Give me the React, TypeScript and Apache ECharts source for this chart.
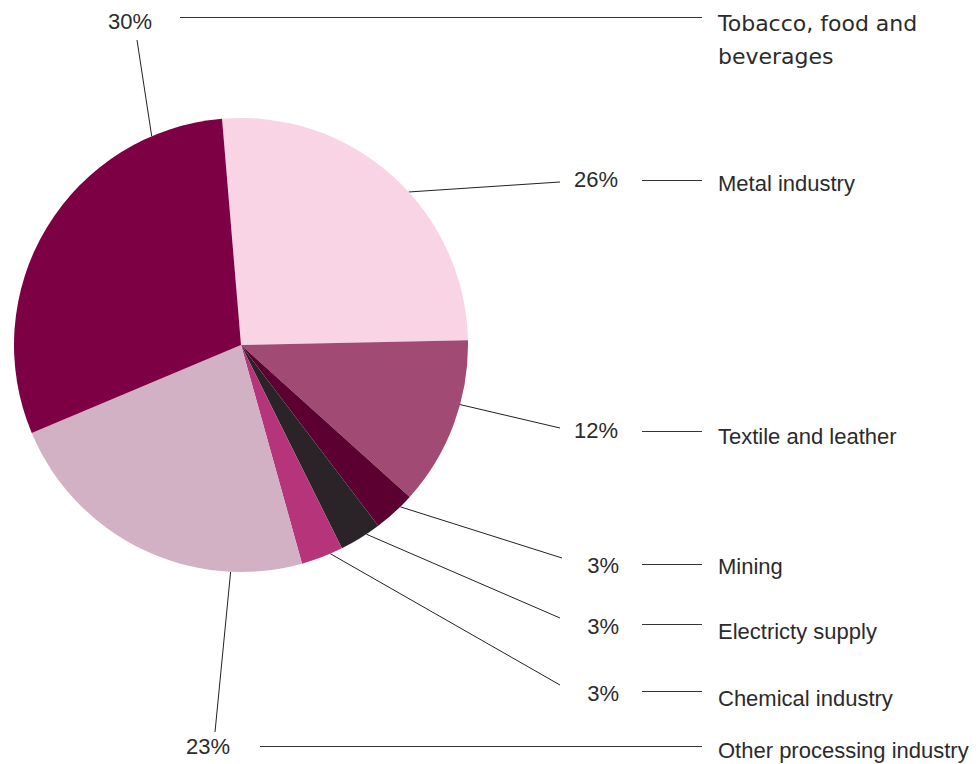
import React, { useEffect, useRef } from 'react';
import * as echarts from 'echarts';

// ---- data ----
const categories = [
  'Metal industry',
  'Textile and leather',
  'Mining',
  'Electricty supply',
  'Chemical industry',
  'Other processing industry',
  'Tobacco, food and\nbeverages',
];
const values = [26, 12, 3, 3, 3, 23, 30];
const colors = ['#f8d4e5', '#a14a73', '#5b0031', '#2a2327', '#b6347a', '#d2b1c5', '#7c0043'];

// ---- layout (not data) ----
const PIE_CENTER = [241, 345];
const PIE_RADIUS = 227;
const START_ANGLE = 94.8;
const pctX = [618, 618, 619, 619, 619, 208, 130];
const pctY = [179, 430, 565, 626, 693, 746, 21];
const pctAlign = ['right', 'right', 'right', 'right', 'right', 'center', 'center'];
// where along each slice's arc (0 = slice start, 1 = slice end) the leader line leaves
const leaderFrac = [0.56, 0.38, 0.32, 0.34, 0.3, 0.22, 0.83];
const leaderEndX = [560, 560, 562, 560, 560, 215, 137];
const leaderEndY = [182, 428, 558, 618, 685, 732, 40];
const connY = [180, 431, 564, 624, 691, 746, 17];
const connX0 = [642, 642, 642, 642, 642, 260, 180];
const connX1 = 702;
const nameX = 718;
const nameY = [183, 436, 566, 631, 698, 750, 40];

const TEXT = '#2b2b2b';
const FONT = 'Liberation Sans, Arial, sans-serif';

function leaderStart(i: number): number[] {
  const total = values.reduce((a, b) => a + b, 0);
  let before = 0;
  for (let k = 0; k < i; k++) before += values[k];
  const a0 = START_ANGLE - (before / total) * 360;
  const span = (values[i] / total) * 360;
  const a = ((a0 - leaderFrac[i] * span) * Math.PI) / 180;
  return [PIE_CENTER[0] + PIE_RADIUS * Math.cos(a), PIE_CENTER[1] - PIE_RADIUS * Math.sin(a)];
}

export default function App() {
  const ref = useRef<HTMLDivElement>(null);
  useEffect(() => {
    if (!ref.current) return;
    const chart = echarts.init(ref.current, undefined, { renderer: 'svg' });
    const graphics: any[] = [];
    categories.forEach((c, i) => {
      graphics.push({
        type: 'line',
        silent: true,
        shape: { x1: connX0[i], y1: connY[i] + 0.5, x2: connX1, y2: connY[i] + 0.5 },
        style: { stroke: '#333', lineWidth: 1 },
      });
      const isTob = c.indexOf('\n') >= 0;
      graphics.push({
        type: 'text',
        silent: true,
        x: nameX,
        y: nameY[i],
        style: {
          text: c,
          fill: TEXT,
          fontSize: 22,
          fontFamily: isTob ? 'DejaVu Sans, sans-serif' : FONT,
          lineHeight: 33,
          align: 'left',
          verticalAlign: 'middle',
        },
      });
    });
    chart.setOption({
      animation: false,
      backgroundColor: '#ffffff',
      graphic: graphics,
      series: [
        {
          type: 'pie',
          center: PIE_CENTER,
          radius: PIE_RADIUS,
          startAngle: START_ANGLE,
          clockwise: true,
          avoidLabelOverlap: false,
          silent: true,
          emphasis: { disabled: true },
          label: {
            show: true,
            position: 'outside',
            formatter: (p: any) => p.value + '%',
            fontSize: 22,
            fontFamily: FONT,
            color: TEXT,
          },
          labelLine: {
            show: true,
            length: 10,
            length2: 0,
            minTurnAngle: 0,
            smooth: false,
            lineStyle: { color: '#222', width: 1 },
          },
          labelLayout: (params: any) => {
            const i = params.dataIndex;
            const s = leaderStart(i);
            return {
              x: pctX[i],
              y: pctY[i],
              align: pctAlign[i],
              verticalAlign: 'middle',
              labelLinePoints: [s, s, [leaderEndX[i], leaderEndY[i]]],
            };
          },
          data: values.map((v, i) => ({
            value: v,
            name: categories[i],
            itemStyle: { color: colors[i] },
          })),
        },
      ],
    });
    return () => chart.dispose();
  }, []);
  return (
    <div
      ref={ref}
      style={{ position: 'fixed', left: 0, top: 0, width: 980, height: 764, background: '#fff' }}
    />
  );
}
